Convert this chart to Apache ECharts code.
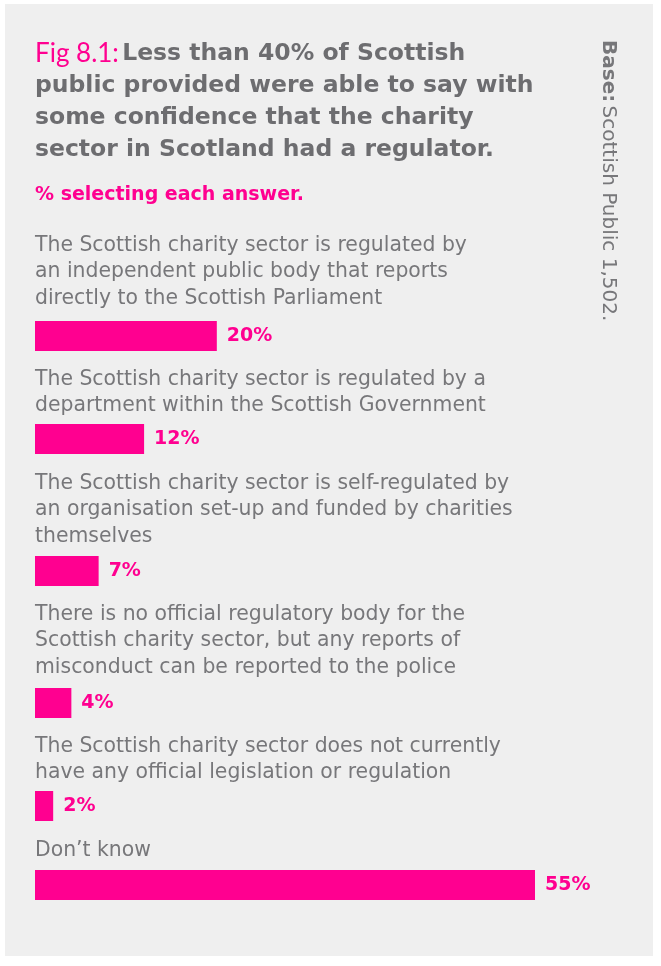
<!DOCTYPE html>
<html><head><meta charset="utf-8">
<script src="https://cdn.jsdelivr.net/npm/echarts@6/dist/echarts.min.js"></script>
<style>html,body{margin:0;padding:0;background:#fff}#c{width:661px;height:966px}</style>
</head><body><div id="c"></div>
<script>
const categories = [
  "The Scottish charity sector is regulated by\nan independent public body that reports\ndirectly to the Scottish Parliament",
  "The Scottish charity sector is regulated by a\ndepartment within the Scottish Government",
  "The Scottish charity sector is self-regulated by\nan organisation set-up and funded by charities\nthemselves",
  "There is no official regulatory body for the\nScottish charity sector, but any reports of\nmisconduct can be reported to the police",
  "The Scottish charity sector does not currently\nhave any official legislation or regulation",
  "Don\u2019t know"
];
const values = [20, 12, 7, 4, 2, 55];
const axisMax = 55;

const PINK = '#ff0090';
const GREY = '#77777a';
const FONT = '"DejaVu Sans"';
const textTops = [232, 366, 470, 601, 733, 837];
const barTops = [321, 424, 556, 688, 791, 870];
const barH = 30;

const chart = echarts.init(document.getElementById('c'), null, {renderer: 'canvas'});
const grids = [], xAxes = [], yAxes = [], series = [], graphics = [];

graphics.push({type: 'rect', z: -10, shape: {x: 5, y: 4, width: 648, height: 952}, style: {fill: '#efefef'}, silent: true});
graphics.push({
  type: 'text', x: 35, y: 38,
  style: {
    text: '{p|Fig 8.1:} {g|Less than 40% of Scottish}\n{g|public provided were able to say with}\n{g|some confidence that the charity}\n{g|sector in Scotland had a regulator.}',
    rich: {
      p: {fill: PINK, fontSize: 26, fontFamily: 'Lato', fontWeight: 'normal', lineHeight: 32},
      g: {fill: '#6d6d70', fontSize: 23.5, fontFamily: FONT, fontWeight: 'bold', lineHeight: 32}
    },
    textVerticalAlign: 'top'
  }
});
graphics.push({type: 'text', x: 35, y: 195, style: {text: '% selecting each answer.', fill: PINK, font: 'bold 19px ' + FONT, textVerticalAlign: 'middle'}});
graphics.push({
  type: 'text', x: 608, y: 40, rotation: -Math.PI / 2,
  style: {
    text: '{b|Base:} {n|Scottish Public 1,502.}',
    rich: {
      b: {fill: GREY, fontSize: 20, fontFamily: FONT, fontWeight: 'bold'},
      n: {fill: GREY, fontSize: 20, fontFamily: FONT}
    },
    textAlign: 'left', textVerticalAlign: 'middle'
  }
});

categories.forEach((cat, i) => {
  grids.push({left: 35, width: 500, top: barTops[i], height: barH});
  xAxes.push({gridIndex: i, type: 'value', min: 0, max: axisMax, show: false});
  yAxes.push({gridIndex: i, type: 'category', data: [cat], show: false});
  series.push({
    type: 'bar', xAxisIndex: i, yAxisIndex: i, data: [values[i]], barWidth: barH,
    itemStyle: {color: PINK},
    label: {show: true, position: 'right', distance: 10, formatter: '{c}%', color: PINK, fontFamily: FONT, fontWeight: 'bold', fontSize: 19},
    silent: true
  });
  graphics.push({type: 'text', x: 35, y: textTops[i], style: {text: cat, fill: GREY, fontSize: 20.4, fontFamily: FONT, lineHeight: 26.5, textVerticalAlign: 'top'}});
});

chart.setOption({
  animation: false,
  backgroundColor: '#ffffff',
  grid: grids, xAxis: xAxes, yAxis: yAxes, series: series,
  graphic: graphics
});
</script></body></html>
